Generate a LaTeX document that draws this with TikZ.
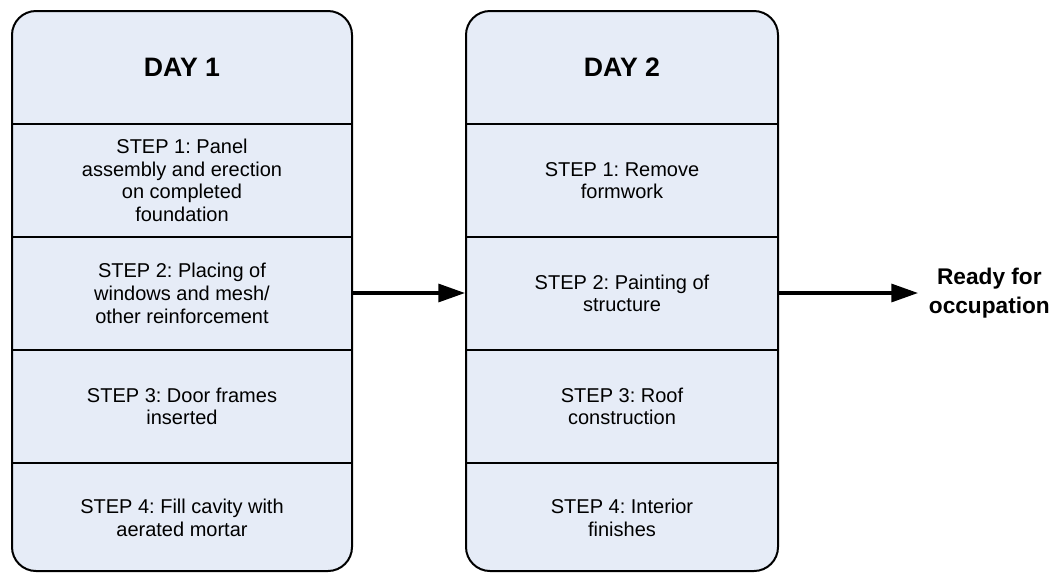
\documentclass[tikz,border=0pt]{standalone}
\usepackage{fontspec}
\setmainfont{Liberation Sans}
\usetikzlibrary{arrows.meta,positioning}
\definecolor{dayfill}{RGB}{230,236,247}
\frenchspacing

\begin{document}
\begin{tikzpicture}[x=0.75pt,y=-0.75pt,>={Triangle[length=20pt,width=13.5pt]}]
    \tikzstyle{day}=[rectangle,rounded corners=18pt,draw=black,line width=1.5pt,fill=dayfill,minimum height=420pt]
    \tikzstyle{head}=[font=\bfseries\fontsize{20}{24}\selectfont]
    \tikzstyle{steptext}=[align=center,font=\fontsize{15}{17}\selectfont]
    \tikzstyle{divider}=[draw=black,line width=1.1pt]
    \tikzstyle{flow}=[->,line width=2.4pt]

    \useasboundingbox (0,0) rectangle (1060,572);

    % the two day boxes
    \node[day,minimum width=255pt](day1) at (182,291){};
    \node[day,minimum width=234pt](day2) at (622,291){};

    \foreach \y in {124,237,350,463}{
      \draw[divider] (day1.west |- 0,\y) -- (day1.east |- 0,\y);
      \draw[divider] (day2.west |- 0,\y) -- (day2.east |- 0,\y);
    }

    \node[head](head1) at (182,67.5){DAY 1};
    \node[steptext](d1s1) at (182,180.5){STEP 1: Panel\\assembly and erection\\on completed\\foundation};
    \node[steptext](d1s2) at (182,293.5){STEP 2: Placing of\\windows and mesh/\\other reinforcement};
    \node[steptext](d1s3) at (182,406.5){STEP 3: Door frames\\inserted};
    \node[steptext](d1s4) at (182,518){STEP 4: Fill cavity with\\aerated mortar};

    \node[head](head2) at (622,67.5){DAY 2};
    \node[steptext](d2s1) at (622,180.5){STEP 1: Remove\\formwork};
    \node[steptext](d2s2) at (622,293.5){STEP 2: Painting of\\structure};
    \node[steptext](d2s3) at (622,406.5){STEP 3: Roof\\construction};
    \node[steptext](d2s4) at (622,518){STEP 4: Interior\\finishes};

    \node[anchor=west,align=center,inner sep=8pt,font=\bfseries\fontsize{17}{21.5}\selectfont](ready) at (918,293){Ready for\\occupation};

    \draw[flow] (day1.east |- ready.west) -- (day2.west |- ready.west);
    \draw[flow] (day2.east |- ready.west) -- (ready.west);
\end{tikzpicture}
\end{document}
